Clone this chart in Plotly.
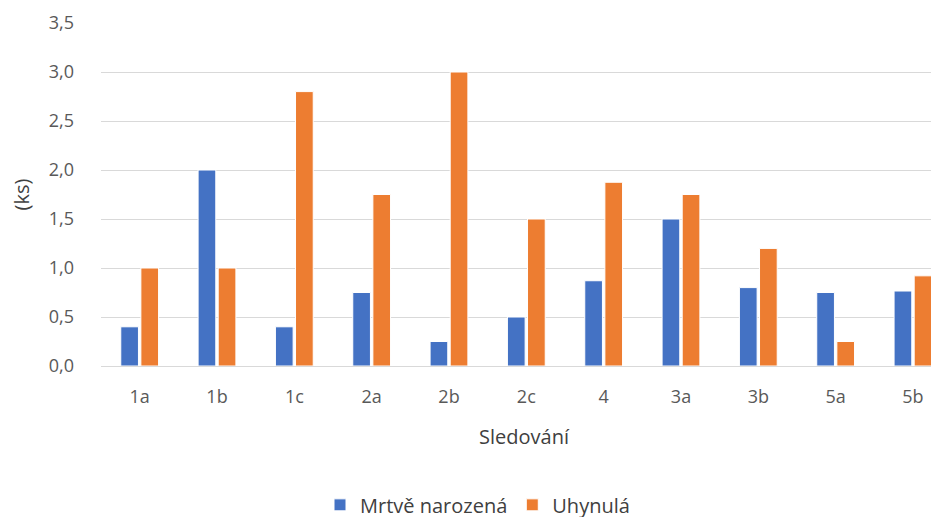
import plotly.graph_objects as go

categories = ["1a", "1b", "1c", "2a", "2b", "2c", "4", "3a", "3b", "5a", "5b"]
mrtve = [0.4, 2.0, 0.4, 0.75, 0.25, 0.5, 0.87, 1.5, 0.8, 0.75, 0.765]
uhynula = [1.0, 1.0, 2.8, 1.75, 3.0, 1.5, 1.875, 1.75, 1.2, 0.25, 0.92]

fig = go.Figure()
fig.add_trace(go.Bar(x=categories, y=mrtve, name="Mrtvě narozená",
                     marker=dict(color="#4472C4", line=dict(color="white", width=1))))
fig.add_trace(go.Bar(x=categories, y=uhynula, name="Uhynulá",
                     marker=dict(color="#ED7D31", line=dict(color="white", width=1))))

font = "Open Sans, Liberation Sans, sans-serif"
fig.update_layout(
    width=939, height=517,
    margin=dict(l=93, r=0, t=15, b=159, autoexpand=False),
    paper_bgcolor="white", plot_bgcolor="white",
    separators=", ",
    barmode="group", bargap=0.48, bargroupgap=0.12,
    font=dict(family=font, color="#595959", size=18),
    showlegend=True,
    legend=dict(orientation="h", x=0.5, xanchor="center", xref="container",
                y=0.039, yanchor="middle", yref="container",
                font=dict(size=20, color="#404040"),
                traceorder="normal"),
    xaxis=dict(range=[-0.5, 10.44], showgrid=False, ticks="", showline=False,
               automargin=False,
               tickfont=dict(size=18, color="#595959"), ticklabelstandoff=18,
               title=dict(text="Sledování", font=dict(size=20, color="#404040"), standoff=22)),
    yaxis=dict(range=[0, 3.5], dtick=0.5, tickformat=".1f", showgrid=True,
               automargin=False,
               gridcolor="#d9d9d9", gridwidth=1, zeroline=True, zerolinecolor="#d9d9d9",
               zerolinewidth=1, showline=False, ticks="",
               tickfont=dict(size=18, color="#595959"), ticklabelstandoff=26,
               title=dict(text="(ks)", font=dict(size=20, color="#404040"), standoff=22)),
)
fig.write_html("out.html")
